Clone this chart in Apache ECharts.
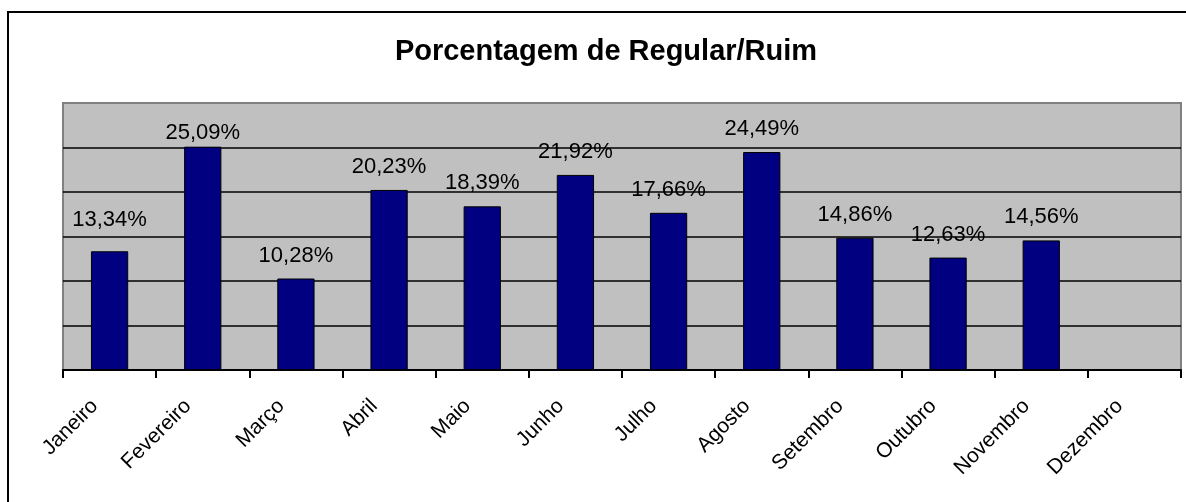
<!DOCTYPE html>
<html>
<head>
<meta charset="utf-8">
<script src="https://cdn.jsdelivr.net/npm/echarts@6/dist/echarts.min.js"></script>
<style>
html,body{margin:0;padding:0;background:#fff;}
#c{width:1186px;height:502px;}
</style>
</head>
<body>
<div id="c"></div>
<script>
const categories = ['Janeiro','Fevereiro','Março','Abril','Maio','Junho','Julho','Agosto','Setembro','Outubro','Novembro','Dezembro'];
const values = [13.34, 25.09, 10.28, 20.23, 18.39, 21.92, 17.66, 24.49, 14.86, 12.63, 14.56, null];
const yTicks = [0, 5, 10, 15, 20, 25, 30];
const titleText = 'Porcentagem de Regular/Ruim';

const FONT = 'Arial, "Liberation Sans", sans-serif';
const labelOffsets = {0: [0, -8], 1: [0, 9]};

const chart = echarts.init(document.getElementById('c'), null, {renderer: 'canvas'});
chart.setOption({
  animation: false,
  backgroundColor: '#ffffff',
  graphic: [{
    type: 'rect', left: 7, top: 11, z: -10,
    shape: {width: 1200, height: 520},
    style: {fill: '#ffffff', stroke: '#000000', lineWidth: 2}
  }],
  title: {
    text: titleText,
    left: 601, top: 32, textAlign: 'center',
    textStyle: {fontFamily: FONT, fontSize: 29, fontWeight: 'bold', color: '#000'}
  },
  grid: {
    left: 63, top: 103, right: 5, bottom: 132,
    show: true, backgroundColor: '#C0C0C0', borderColor: '#808080', borderWidth: 2
  },
  xAxis: {
    type: 'category', data: categories, boundaryGap: true,
    axisLine: {lineStyle: {color: '#000', width: 2}},
    axisTick: {show: true, length: 8, inside: false, lineStyle: {color: '#000', width: 2}},
    axisLabel: {
      rotate: 45, interval: 0, margin: 18, color: '#000',
      fontFamily: FONT, fontSize: 21, padding: [0, 21, 0, 0]
    },
    splitLine: {show: false}
  },
  yAxis: {
    type: 'value', min: yTicks[0], max: yTicks[yTicks.length - 1], interval: yTicks[1] - yTicks[0],
    axisLine: {show: false}, axisTick: {show: false}, axisLabel: {show: false},
    splitLine: {show: true, showMaxLine: false, showMinLine: false, lineStyle: {color: '#000', width: 1.5}}
  },
  series: [{
    type: 'bar',
    data: values.map((v, i) => ({
      value: v,
      label: labelOffsets[i] ? {offset: labelOffsets[i]} : undefined
    })),
    barCategoryGap: '60%',
    itemStyle: {color: '#000080', borderColor: '#000', borderWidth: 1},
    label: {
      show: true, position: 'top', distance: 12, color: '#000',
      fontFamily: FONT, fontSize: 22,
      formatter: p => p.value == null ? '' : p.value.toFixed(2).replace('.', ',') + '%'
    }
  }]
});
</script>
</body>
</html>
